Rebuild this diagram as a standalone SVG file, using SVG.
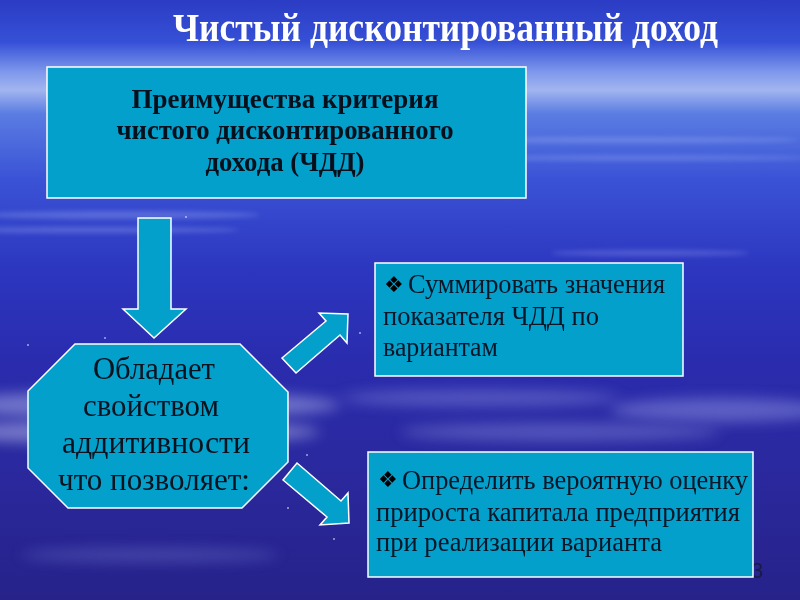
<svg xmlns="http://www.w3.org/2000/svg" width="800" height="600" viewBox="0 0 800 600">
<defs>
<linearGradient id="bg" x1="0" y1="0" x2="0" y2="1">
<stop offset="0" stop-color="#2b3bc4"/>
<stop offset="0.07" stop-color="#3550d6"/>
<stop offset="0.12" stop-color="#7e98ec"/>
<stop offset="0.15" stop-color="#a2b5f0"/>
<stop offset="0.19" stop-color="#5a7ce2"/>
<stop offset="0.3" stop-color="#3a52d6"/>
<stop offset="0.45" stop-color="#2c36bf"/>
<stop offset="0.6" stop-color="#2a2cae"/>
<stop offset="0.8" stop-color="#2a289c"/>
<stop offset="1" stop-color="#26228a"/>
</linearGradient>
<filter id="blur" x="-20%" y="-200%" width="140%" height="500%">
<feGaussianBlur stdDeviation="7"/>
</filter>
<filter id="blur2" x="-20%" y="-200%" width="140%" height="500%">
<feGaussianBlur stdDeviation="2.5"/>
</filter>
<style>
.box{fill:#03a0cc;stroke:#ffffff;stroke-width:1.5}
.title{font-family:"Liberation Serif",serif;font-weight:bold;font-size:40px;fill:#ffffff}
.hdr{font-family:"Liberation Serif",serif;font-weight:bold;font-size:27px;fill:#06101c;text-anchor:middle}
.oct{font-family:"Liberation Serif",serif;font-size:31px;fill:#08121e;text-anchor:middle}
.item{font-family:"Liberation Serif",serif;font-size:27px;fill:#071628}
.bul{font-family:"DejaVu Sans",sans-serif;font-size:22px;fill:#000000}
.num{font-family:"Liberation Sans",sans-serif;font-size:22px;fill:#1a1a48}
.dot{fill:#ffffff}
</style>
</defs>
<rect x="0" y="0" width="800" height="600" fill="url(#bg)"/>
<g opacity="0.25">
<ellipse cx="120" cy="215" rx="140" ry="4" fill="#c8d4ff" filter="url(#blur2)"/>
<ellipse cx="90" cy="230" rx="150" ry="3" fill="#c8d4ff" filter="url(#blur2)"/>
<ellipse cx="620" cy="140" rx="180" ry="3" fill="#c8d4ff" filter="url(#blur2)"/>
<ellipse cx="640" cy="158" rx="170" ry="2.5" fill="#c8d4ff" filter="url(#blur2)"/>
<ellipse cx="650" cy="253" rx="100" ry="3" fill="#b8c4ff" filter="url(#blur2)"/>
</g>
<g opacity="0.45">
<ellipse cx="140" cy="405" rx="200" ry="14" fill="#c9cff5" filter="url(#blur)"/>
<ellipse cx="130" cy="432" rx="190" ry="12" fill="#d7dbf8" filter="url(#blur)"/>
<ellipse cx="480" cy="398" rx="140" ry="8" fill="#8e92e0" filter="url(#blur)"/>
<ellipse cx="720" cy="410" rx="110" ry="12" fill="#9ea2ea" filter="url(#blur)"/>
<ellipse cx="560" cy="432" rx="160" ry="9" fill="#8a8edc" filter="url(#blur)"/>
<ellipse cx="150" cy="555" rx="130" ry="7" fill="#6a70c8" filter="url(#blur)"/>
</g>
<text class="title" x="173" y="41" textLength="545" lengthAdjust="spacingAndGlyphs">Чистый дисконтированный доход</text>
<g class="dot">
<circle cx="186" cy="217" r="0.8"/><circle cx="360" cy="333" r="0.8"/><circle cx="105" cy="338" r="0.8"/>
<circle cx="28" cy="345" r="0.8"/><circle cx="307" cy="455" r="0.8"/><circle cx="334" cy="539" r="0.8"/>
<circle cx="288" cy="508" r="0.8"/>
</g>
<g id="connectors">
<polygon class="box" points="138,218 171,218 171,309 186,309 154,338 123,309 138,309"/>
<polygon class="box" points="282,358 326,321 319,313 348,314 347,343 340,335 296,373"/>
<polygon class="box" points="297,463 341,501 348,493 349,523 320,525 327,517 283,480"/>
</g>
<g id="node-top">
<rect class="box" x="47" y="67" width="479" height="131"/>
<text class="hdr" x="285" y="108" textLength="307" lengthAdjust="spacingAndGlyphs">Преимущества критерия</text>
<text class="hdr" x="285" y="139" textLength="337" lengthAdjust="spacingAndGlyphs">чистого дисконтированного</text>
<text class="hdr" x="285" y="171" textLength="159" lengthAdjust="spacingAndGlyphs">дохода (ЧДД)</text>
</g>
<g id="node-octagon">
<polygon class="box" points="75,344 240,344 288,392 288,462 242,508 68,508 28,468 28,391"/>
<text class="oct" x="154" y="379" textLength="122" lengthAdjust="spacingAndGlyphs">Обладает</text>
<text class="oct" x="151" y="416" textLength="136" lengthAdjust="spacingAndGlyphs">свойством</text>
<text class="oct" x="156" y="453" textLength="188" lengthAdjust="spacingAndGlyphs">аддитивности</text>
<text class="oct" x="154" y="490" textLength="192" lengthAdjust="spacingAndGlyphs">что позволяет:</text>
</g>
<g id="node-sum">
<rect class="box" x="375" y="263" width="308" height="113"/>
<text class="bul" x="384" y="292">❖</text>
<text class="item" x="408" y="293" textLength="257" lengthAdjust="spacingAndGlyphs">Суммировать значения</text>
<text class="item" x="383" y="325" textLength="216" lengthAdjust="spacingAndGlyphs">показателя ЧДД по</text>
<text class="item" x="383" y="356" textLength="115" lengthAdjust="spacingAndGlyphs">вариантам</text>
</g>
<text class="num" x="751" y="578">3</text>
<g id="node-estimate">
<rect class="box" x="368" y="452" width="385" height="125"/>
<text class="bul" x="378" y="487">❖</text>
<text class="item" x="402" y="489" textLength="346" lengthAdjust="spacingAndGlyphs">Определить вероятную оценку</text>
<text class="item" x="376" y="521" textLength="364" lengthAdjust="spacingAndGlyphs">прироста капитала предприятия</text>
<text class="item" x="376" y="551" textLength="286" lengthAdjust="spacingAndGlyphs">при реализации варианта</text>
</g>
</svg>
